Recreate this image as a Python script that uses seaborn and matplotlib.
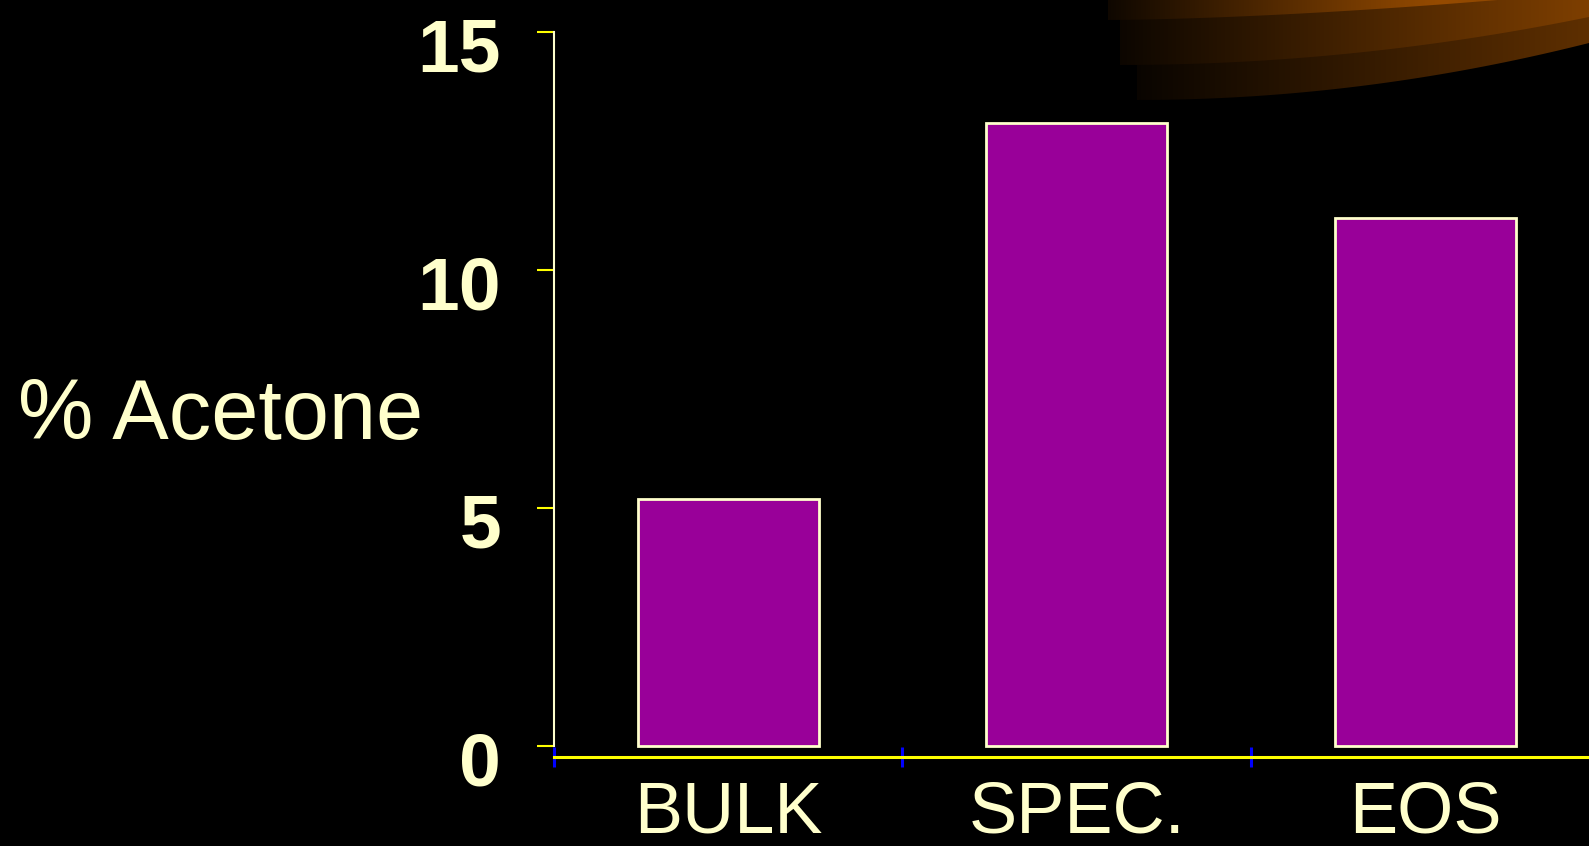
import numpy as np
import pandas as pd
import matplotlib
matplotlib.use("Agg")
import matplotlib.pyplot as plt
import matplotlib.transforms as mtransforms
from matplotlib.patches import Polygon
import seaborn as sns

# data
categories = ["BULK", "SPEC.", "EOS"]
acetone_pct = [5.2, 13.1, 11.1]
y_ticks = [0, 5, 10, 15]

TEXT = "#FFFFCC"
BAR = "#990099"

sns.set_style("white")
plt.rcParams["font.family"] = ["Liberation Sans", "DejaVu Sans"]

fig = plt.figure(figsize=(15.89, 8.46), dpi=100, facecolor="black")

# decorative orange swoosh in the top right corner (pixel coords)
deco = fig.add_axes([0, 0, 1, 1], zorder=0)
deco.set_xlim(0, 1589)
deco.set_ylim(846, 0)
deco.axis("off")
deco.set_facecolor("black")


def swoosh(x_left, y_left, y_right, c_right, power=2.0, x_peak=1589):
    xs = np.linspace(x_left, 1589, 80)
    t = (xs - x_left) / (1589 - x_left)
    ys = y_left - (y_left - y_right) * t ** power
    verts = np.column_stack([np.r_[x_left, xs, 1589], np.r_[0, ys, 0]])
    poly = Polygon(verts, closed=True, facecolor="none", edgecolor="none")
    deco.add_patch(poly)
    px = np.linspace(x_left, 1589, 300)
    grad = np.clip((px - x_left) / (x_peak - x_left), 0, 1)
    grad = np.where(px > x_peak, 1 - 0.12 * (px - x_peak) / max(1589 - x_peak, 1), grad)
    grad = 0.1 + 0.9 * grad
    rgb = np.array(matplotlib.colors.to_rgb(c_right))
    img = (grad[:, None] * rgb[None, :])[None, :, :]
    im = deco.imshow(img, extent=[x_left, 1589, 110, 0], aspect="auto",
                     interpolation="bilinear", zorder=1)
    im.set_clip_path(poly)


swoosh(1137, 100, 43, "#5E2F00")
swoosh(1120, 65, 17, "#7E3F00")
swoosh(1108, 20, -8, "#964B00", power=1.6, x_peak=1440)

ax = fig.add_axes([554 / 1589, 89 / 846, 1 - 554 / 1589, 724.6 / 846], zorder=2)
ax.set_facecolor("none")

df = pd.DataFrame({"cat": categories, "val": acetone_pct})
sns.barplot(data=df, x="cat", y="val", color=BAR, saturation=1, width=0.52,
            edgecolor=TEXT, linewidth=2, ax=ax)

ax.set_xlabel("")
ax.set_ylabel("")

for side in ["top", "right"]:
    ax.spines[side].set_visible(False)
ax.spines["left"].set_color(TEXT)
ax.spines["left"].set_linewidth(1.5)
ax.spines["left"].set_bounds(0, 15)
ax.spines["bottom"].set_color("#FFFF00")
ax.spines["bottom"].set_linewidth(2.2)

ax.set_yticks(y_ticks)
ax.set_yticklabels([str(v) for v in y_ticks], fontsize=54, fontweight="bold", color=TEXT)
ax.tick_params(axis="y", length=12, width=1.5, color="#FFFF00", pad=26, left=True)
offset = mtransforms.ScaledTranslation(0, -12 / 100, fig.dpi_scale_trans)
for lbl in ax.get_yticklabels():
    lbl.set_transform(lbl.get_transform() + offset)

ax.set_xticks(range(len(categories)))
ax.set_xticklabels(categories, fontsize=52, color=TEXT)
ax.tick_params(axis="x", which="major", length=0, pad=17)
ax.set_xticks([-0.5, 0.5, 1.5], minor=True)
ax.tick_params(axis="x", which="minor", length=14, width=2.2, color="#0000FF",
               direction="inout", bottom=True)

# limits last so tick setting does not widen the view
ax.set_xlim(-0.5, 2.47)
ax.set_ylim(-0.23, 15)

fig.text(18 / 1589, 0.507, "% Acetone", fontsize=61, color=TEXT,
         ha="left", va="center")

fig.savefig("out.png", dpi=100, facecolor="black")
